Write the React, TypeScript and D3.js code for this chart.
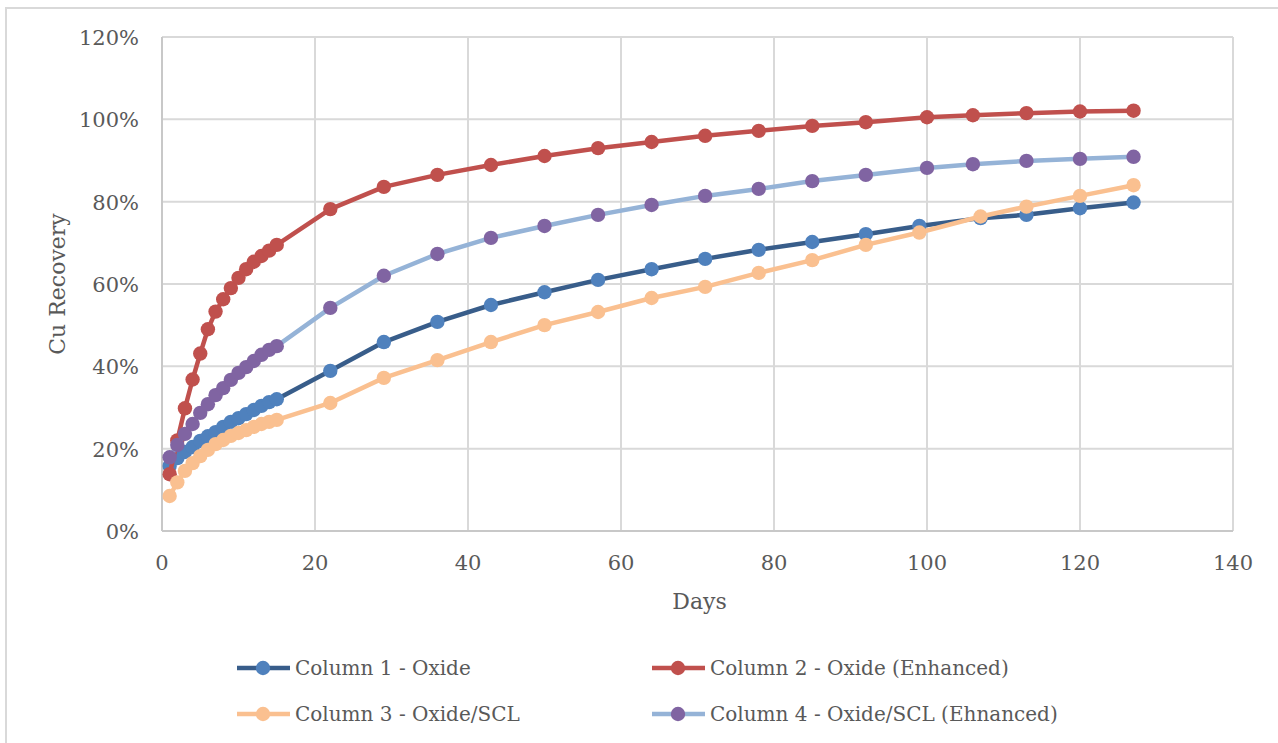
import React, { useEffect, useRef } from 'react';
import * as d3 from 'd3';

// Days sampled (columns 1 & 3 share one schedule, 2 & 4 another)
const daysA = [1, 2, 3, 4, 5, 6, 7, 8, 9, 10, 11, 12, 13, 14, 15, 22, 29, 36, 43, 50, 57, 64, 71, 78, 85, 92, 99, 107, 113, 120, 127];
const daysB = [1, 2, 3, 4, 5, 6, 7, 8, 9, 10, 11, 12, 13, 14, 15, 22, 29, 36, 43, 50, 57, 64, 71, 78, 85, 92, 100, 106, 113, 120, 127];

// Cu recovery, percent
const col1 = [15.8, 17.7, 19.2, 20.4, 21.9, 23.0, 24.0, 25.3, 26.5, 27.4, 28.4, 29.4, 30.4, 31.3, 32.0, 38.9, 45.9, 50.8, 54.9, 58.0, 61.0, 63.6, 66.1, 68.3, 70.2, 72.1, 74.1, 76.0, 76.8, 78.4, 79.8];
const col2 = [13.8, 22.0, 29.8, 36.8, 43.1, 49.0, 53.3, 56.3, 59.0, 61.5, 63.6, 65.4, 66.8, 68.1, 69.5, 78.2, 83.6, 86.5, 88.9, 91.1, 93.0, 94.5, 96.0, 97.2, 98.4, 99.3, 100.5, 101.0, 101.5, 101.9, 102.1];
const col3 = [8.5, 11.8, 14.6, 16.5, 18.2, 19.7, 21.1, 22.1, 23.1, 23.8, 24.5, 25.3, 26.0, 26.5, 27.0, 31.1, 37.2, 41.5, 45.9, 50.0, 53.2, 56.6, 59.3, 62.7, 65.8, 69.5, 72.5, 76.4, 78.8, 81.4, 84.0];
const col4 = [17.9, 20.9, 23.6, 26.0, 28.7, 30.8, 33.0, 34.7, 36.7, 38.4, 39.8, 41.3, 42.8, 44.0, 44.9, 54.2, 62.0, 67.3, 71.2, 74.1, 76.8, 79.2, 81.4, 83.1, 85.0, 86.5, 88.2, 89.1, 89.9, 90.4, 90.9];

const xTicks = [0, 20, 40, 60, 80, 100, 120, 140];
const yTicks = [0, 0.2, 0.4, 0.6, 0.8, 1.0, 1.2];

const series = [
  { name: 'Column 1 - Oxide', days: daysA, values: col1, line: '#385d8a', marker: '#4f81bd' },
  { name: 'Column 2 - Oxide (Enhanced)', days: daysB, values: col2, line: '#c0504d', marker: '#c0504d' },
  { name: 'Column 3 - Oxide/SCL', days: daysA, values: col3, line: '#fac090', marker: '#fac090' },
  { name: 'Column 4 - Oxide/SCL (Ehnanced)', days: daysB, values: col4, line: '#95b3d7', marker: '#8064a2' },
];

const FONT = '"DejaVu Serif", serif';
const TEXT = '#595959';
const GRID = '#d9d9d9';

export default function App() {
  const svgRef = useRef<SVGSVGElement>(null);

  useEffect(() => {
    if (!svgRef.current) return;
    const svg = d3.select(svgRef.current);
    svg.selectAll('*').remove();

    const W = 1278, H = 743;
    const margin = { top: 37, right: W - 1233, bottom: H - 531, left: 162 };

    const x = d3.scaleLinear().domain([0, 140]).range([margin.left, W - margin.right]);
    const y = d3.scaleLinear().domain([0, 1.2]).range([H - margin.bottom, margin.top]);

    svg.append('rect').attr('width', W).attr('height', H).attr('fill', '#fff');

    // outer chart border
    svg.append('rect')
      .attr('x', 6).attr('y', 8).attr('width', W + 20).attr('height', H + 20)
      .attr('fill', 'none').attr('stroke', GRID).attr('stroke-width', 2);

    // gridlines
    svg.append('g')
      .selectAll('line.h')
      .data(yTicks)
      .join('line')
      .attr('x1', x(0)).attr('x2', x(140))
      .attr('y1', d => y(d)).attr('y2', d => y(d))
      .attr('stroke', GRID).attr('stroke-width', 2);

    svg.append('g')
      .selectAll('line.v')
      .data(xTicks)
      .join('line')
      .attr('x1', d => x(d)).attr('x2', d => x(d))
      .attr('y1', y(0)).attr('y2', y(1.2))
      .attr('stroke', GRID).attr('stroke-width', 2);

    // axis lines
    svg.append('line')
      .attr('x1', x(0)).attr('x2', x(0)).attr('y1', y(0)).attr('y2', y(1.2))
      .attr('stroke', '#c8c8c8').attr('stroke-width', 2);
    svg.append('line')
      .attr('x1', x(0)).attr('x2', x(140)).attr('y1', y(0)).attr('y2', y(0))
      .attr('stroke', '#c8c8c8').attr('stroke-width', 2);

    // tick labels
    const pct = d3.format('.0%');
    svg.append('g')
      .selectAll('text')
      .data(yTicks)
      .join('text')
      .attr('x', 139)
      .attr('y', d => y(d) + 8)
      .attr('text-anchor', 'end')
      .style('font-family', FONT).style('font-size', '21px').style('fill', TEXT)
      .text(d => pct(d));

    svg.append('g')
      .selectAll('text')
      .data(xTicks)
      .join('text')
      .attr('x', d => x(d))
      .attr('y', 570)
      .attr('text-anchor', 'middle')
      .style('font-family', FONT).style('font-size', '21px').style('fill', TEXT)
      .text(d => String(d));

    // axis titles
    svg.append('text')
      .attr('x', (x(0) + x(140)) / 2 + 2).attr('y', 609)
      .attr('text-anchor', 'middle')
      .style('font-family', FONT).style('font-size', '22px').style('fill', TEXT)
      .text('Days');

    svg.append('text')
      .attr('transform', `translate(65,${(y(0) + y(1.2)) / 2}) rotate(-90)`)
      .attr('text-anchor', 'middle')
      .style('font-family', FONT).style('font-size', '22px').style('fill', TEXT)
      .text('Cu Recovery');

    // series
    const line = d3.line<[number, number]>()
      .x(d => x(d[0]))
      .y(d => y(d[1] / 100));

    series.forEach(s => {
      const pts: [number, number][] = s.days.map((d, i) => [d, s.values[i]]);
      const g = svg.append('g');
      g.append('path')
        .datum(pts)
        .attr('d', line)
        .attr('fill', 'none')
        .attr('stroke', s.line)
        .attr('stroke-width', 4.5)
        .attr('stroke-linejoin', 'round');
      g.selectAll('circle')
        .data(pts)
        .join('circle')
        .attr('cx', d => x(d[0]))
        .attr('cy', d => y(d[1] / 100))
        .attr('r', 7.2)
        .attr('fill', s.marker);
    });

    // legend
    const legendPos = [
      { lx: 237, ly: 668 },
      { lx: 652, ly: 668 },
      { lx: 237, ly: 714 },
      { lx: 652, ly: 714 },
    ];
    series.forEach((s, i) => {
      const p = legendPos[i];
      const g = svg.append('g').attr('transform', `translate(${p.lx},${p.ly})`);
      g.append('line')
        .attr('x1', 0).attr('x2', 53).attr('y1', 0).attr('y2', 0)
        .attr('stroke', s.line).attr('stroke-width', 4.5);
      g.append('circle').attr('cx', 26).attr('cy', 0).attr('r', 7.2).attr('fill', s.marker);
      g.append('text')
        .attr('x', 58).attr('y', 7)
        .style('font-family', FONT).style('font-size', '20px').style('fill', TEXT)
        .text(s.name);
    });
  }, []);

  return (
    <svg
      ref={svgRef}
      width={1278}
      height={743}
      style={{ position: 'absolute', left: 0, top: 0 }}
    />
  );
}
